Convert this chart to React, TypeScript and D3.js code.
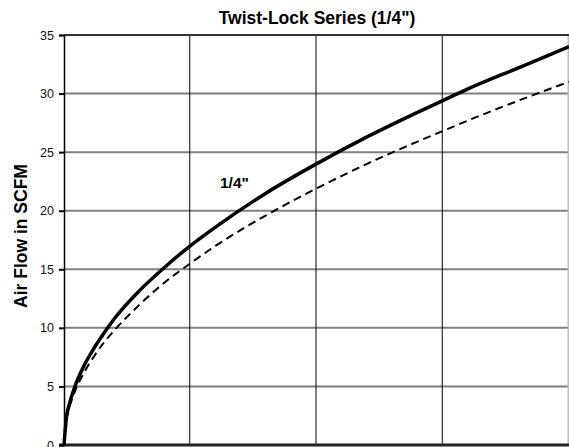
import { useEffect, useRef } from "react";
import * as d3 from "d3";

// values (x axis labels are cut off, 0-100 assumed)
const xValues = [0, 0.5, 1, 2, 4, 6, 8, 10, 15, 20, 25, 30, 40, 50, 60, 70, 75, 80, 90, 100];
const solidFlow = [0, 2.4, 3.4, 4.8, 6.8, 8.3, 9.6, 10.8, 13.2, 15.2, 17.0, 18.6, 21.5, 24.0, 26.3, 28.4, 29.4, 30.4, 32.2, 34.0];
const dashedFlow = [0, 2.2, 3.1, 4.4, 6.2, 7.6, 8.8, 9.8, 12.0, 13.9, 15.5, 17.0, 19.6, 21.9, 24.0, 25.9, 26.8, 27.7, 29.4, 31.0];
const yTicks = [0, 5, 10, 15, 20, 25, 30, 35];
const xGrid = [25, 50, 75, 100];

export default function App() {
  const ref = useRef<SVGSVGElement>(null);

  useEffect(() => {
    if (!ref.current) return;
    const width = 569;
    const height = 447;
    const margin = { top: 35, right: 0, bottom: 2, left: 64 };

    const svg = d3.select(ref.current);
    svg.selectAll("*").remove();

    const x = d3.scaleLinear().domain([0, 100]).range([margin.left, width - margin.right]);
    const y = d3.scaleLinear().domain([0, 35]).range([height - margin.bottom, margin.top]);

    // horizontal grid
    svg.append("g")
      .selectAll("line")
      .data(yTicks.filter(d => d > 0 && d < 35))
      .join("line")
      .attr("x1", x(0))
      .attr("x2", x(100))
      .attr("y1", d => y(d))
      .attr("y2", d => y(d))
      .attr("stroke", "#808080")
      .attr("stroke-width", 2);

    // vertical grid
    svg.append("g")
      .selectAll("line")
      .data(xGrid)
      .join("line")
      .attr("x1", d => x(d) - 0.5)
      .attr("x2", d => x(d) - 0.5)
      .attr("y1", y(35))
      .attr("y2", y(0))
      .attr("stroke", d => (d === 100 ? "#bbb" : "#000"))
      .attr("stroke-width", d => (d === 100 ? 2 : 1));

    // top border
    svg.append("line")
      .attr("x1", x(0)).attr("x2", x(100))
      .attr("y1", y(35)).attr("y2", y(35))
      .attr("stroke", "#333").attr("stroke-width", 2);

    // bottom axis line
    svg.append("line")
      .attr("x1", x(0) - 5).attr("x2", x(100))
      .attr("y1", y(0)).attr("y2", y(0))
      .attr("stroke", "#222").attr("stroke-width", 3);

    // y axis
    svg.append("g")
      .attr("transform", `translate(${x(0)},0)`)
      .call(d3.axisLeft(y).tickValues(yTicks).tickSize(5).tickPadding(5))
      .call(g => g.select(".domain").attr("stroke", "#000").attr("stroke-width", 1.5))
      .call(g => g.selectAll(".tick line").attr("stroke", "#000").attr("stroke-width", 2))
      .call(g => g.selectAll(".tick text")
        .attr("fill", "#111")
        .style("font-family", "Liberation Sans, Arial, sans-serif")
        .style("font-size", "12.5px"));

    const line = d3.line<number>()
      .x((_, i) => x(xValues[i]))
      .y(d => y(d))
      .curve(d3.curveMonotoneX);

    svg.append("path")
      .datum(dashedFlow)
      .attr("fill", "none")
      .attr("stroke", "#000")
      .attr("stroke-width", 2)
      .attr("stroke-dasharray", "8,5")
      .attr("d", line);

    svg.append("path")
      .datum(solidFlow)
      .attr("fill", "none")
      .attr("stroke", "#000")
      .attr("stroke-width", 3.5)
      .attr("d", line);

    // series label
    svg.append("text")
      .attr("x", 220)
      .attr("y", 188)
      .style("font-family", "Liberation Sans, Arial, sans-serif")
      .style("font-size", "15.5px")
      .style("font-weight", "bold")
      .text('1/4"');

    // title
    svg.append("text")
      .attr("x", 317)
      .attr("y", 24)
      .attr("text-anchor", "middle")
      .style("font-family", "Liberation Sans, Arial, sans-serif")
      .style("font-size", "17.5px")
      .style("font-weight", "bold")
      .text('Twist-Lock Series (1/4")');

    // y axis title
    svg.append("text")
      .attr("transform", `translate(27,${236}) rotate(-90)`)
      .attr("text-anchor", "middle")
      .style("font-family", "Liberation Sans, Arial, sans-serif")
      .style("font-size", "17.5px")
      .style("font-weight", "bold")
      .text("Air Flow in SCFM");
  }, []);

  return (
    <svg
      ref={ref}
      width={569}
      height={447}
      style={{ position: "absolute", left: 0, top: 0, background: "#fff" }}
    />
  );
}
